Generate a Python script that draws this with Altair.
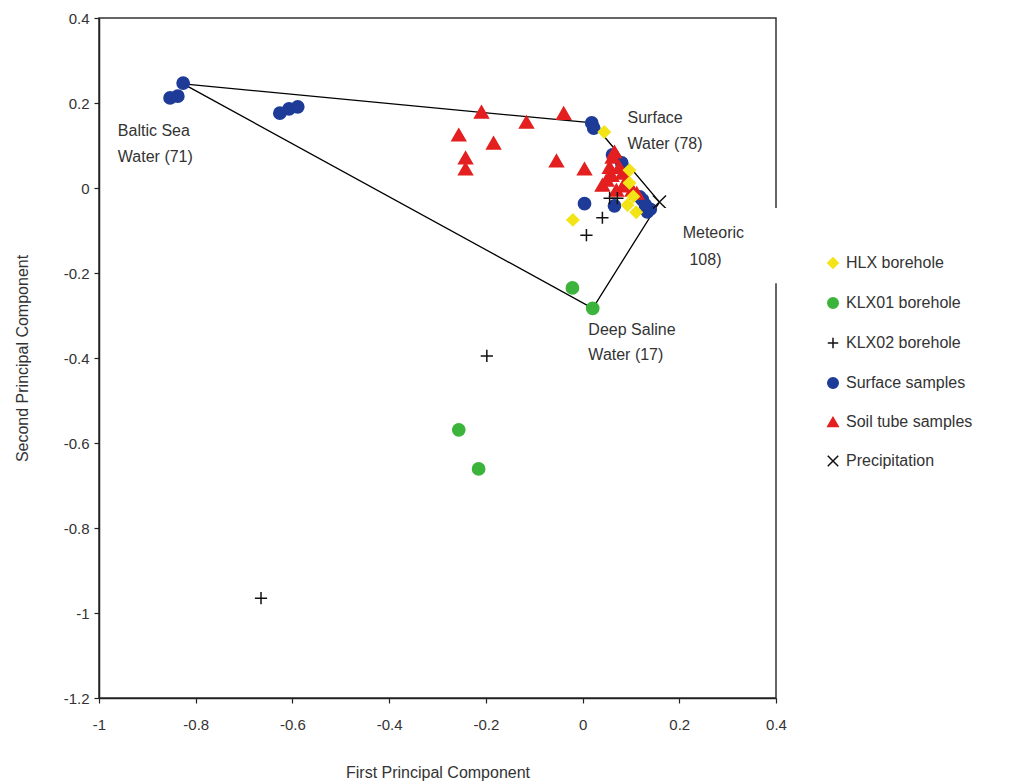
import altair as alt
import pandas as pd

# ---------------- data ----------------
series_order = ["HLX borehole", "KLX01 borehole", "KLX02 borehole",
                "Surface samples", "Soil tube samples", "Precipitation"]
series_colors = ["#f3e417", "#3cb43c", "#111111", "#1d3b97", "#e41f1f", "#111111"]
series_shapes = ["diamond", "circle", "M-1,0H1M0,-1V1", "circle", "triangle-up",
                 "M-1,-1L1,1M-1,1L1,-1"]
series_sizes = [140, 150, 150, 150, 190, 170]

surface_x = [-0.826, -0.853, -0.837, -0.626, -0.607, -0.589, 0.019, 0.023,
             0.062, 0.081, 0.004, 0.066, 0.124, 0.134, 0.118, 0.140, 0.130]
surface_y = [0.247, 0.212, 0.216, 0.176, 0.186, 0.191, 0.153, 0.141,
             0.078, 0.059, -0.037, -0.042, -0.028, -0.056, -0.021, -0.050, -0.040]

soil_x = [-0.209, -0.116, -0.039, -0.256, -0.184, -0.242, -0.242, -0.054, 0.004,
          0.062, 0.076, 0.050, 0.091, 0.103, 0.070, 0.056, 0.083, 0.112, 0.066,
          0.041, 0.085, 0.095, 0.060]
soil_y = [0.179, 0.155, 0.176, 0.125, 0.106, 0.071, 0.045, 0.064, 0.045,
          0.073, 0.049, 0.019, 0.019, -0.005, -0.005, 0.049, 0.035, -0.012, 0.085,
          0.007, 0.005, 0.010, 0.030]

hlx_x = [0.045, 0.097, 0.093, 0.111, -0.020, 0.097, 0.105]
hlx_y = [0.132, 0.042, -0.040, -0.057, -0.075, 0.012, -0.020]

klx01_x = [-0.021, 0.021, -0.256, -0.215]
klx01_y = [-0.235, -0.283, -0.569, -0.661]

klx02_x = [0.041, 0.008, 0.056, 0.072, -0.198, -0.665]
klx02_y = [-0.070, -0.111, -0.024, -0.024, -0.395, -0.965]

precip_x = [0.159]
precip_y = [-0.033]

# mixing polygon (end-members)
poly_x = [-0.826, 0.021, 0.159, 0.021, -0.826]
poly_y = [0.245, 0.153, -0.033, -0.283, 0.245]

# annotation labels
ann_text = ["Baltic Sea", "Water (71)", "Surface", "Water (78)",
            "Meteoric", "108)", "Deep Saline", "Water (17)"]
ann_x = [-0.961, -0.961, 0.093, 0.093, 0.207, 0.221, 0.012, 0.012]
ann_y = [0.134, 0.073, 0.165, 0.103, -0.107, -0.170, -0.334, -0.393]

# white box behind the "Meteoric" label
box_x = [0.165, 0.43]
box_y = [-0.047, -0.224]

x_ticks = [-1, -0.8, -0.6, -0.4, -0.2, 0, 0.2, 0.4]
y_ticks = [-1.2, -1, -0.8, -0.6, -0.4, -0.2, 0, 0.2, 0.4]

# ---------------- tables ----------------
size_of = dict(zip(series_order, series_sizes))
rows = []
for name, xs, ys in [("Surface samples", surface_x, surface_y),
                     ("Soil tube samples", soil_x, soil_y),
                     ("HLX borehole", hlx_x, hlx_y),
                     ("KLX01 borehole", klx01_x, klx01_y),
                     ("KLX02 borehole", klx02_x, klx02_y),
                     ("Precipitation", precip_x, precip_y)]:
    for a, b in zip(xs, ys):
        rows.append({"x": a, "y": b, "series": name, "sz": size_of[name]})
pts = pd.DataFrame(rows)
poly = pd.DataFrame({"x": poly_x, "y": poly_y, "order": list(range(len(poly_x)))})
ann = pd.DataFrame({"x": ann_x, "y": ann_y, "text": ann_text})
box = pd.DataFrame({"x": [box_x[0]], "x2": [box_x[1]], "y": [box_y[0]], "y2": [box_y[1]]})

FONT = "Liberation Sans"
label_expr = "toString(round(datum.value*10)/10)"

xscale = alt.Scale(domain=[-1, 0.4], nice=False, zero=False)
yscale = alt.Scale(domain=[-1.2, 0.4], nice=False, zero=False)

xaxis = alt.Axis(values=x_ticks, labelExpr=label_expr, title="First Principal Component",
                 grid=False, tickSize=5, labelPadding=14, titlePadding=32, labelFlush=False,
                 labelFontSize=15, titleFontSize=16, titleFontWeight="normal")
yaxis = alt.Axis(values=y_ticks, labelExpr=label_expr, title="Second Principal Component",
                 grid=False, tickSize=5, labelPadding=5, titlePadding=33, labelFlush=False,
                 labelFontSize=15, titleFontSize=16, titleFontWeight="normal")

X = alt.X("x:Q", scale=xscale, axis=xaxis)
Y = alt.Y("y:Q", scale=yscale, axis=yaxis)

leg = alt.Legend(title=None, orient="none", legendX=726, legendY=237,
                 labelFontSize=16, labelFont=FONT, labelColor="#333333",
                 symbolSize=110, symbolStrokeWidth=1.5, rowPadding=22,
                 labelOffset=5, padding=0)

polygon = alt.Chart(poly).mark_line(color="black", strokeWidth=1.3).encode(
    x=X, y=Y, order="order:O")

points = alt.Chart(pts).mark_point(filled=True, strokeWidth=1.5, opacity=1).encode(
    x=X, y=Y,
    fill=alt.Fill("series:N", scale=alt.Scale(domain=series_order, range=series_colors), legend=leg),
    stroke=alt.Stroke("series:N", scale=alt.Scale(domain=series_order, range=series_colors), legend=leg),
    shape=alt.Shape("series:N", scale=alt.Scale(domain=series_order, range=series_shapes), legend=leg),
    size=alt.Size("sz:Q", scale=None),
)

whitebox = alt.Chart(box).mark_rect(fill="white").encode(
    x="x:Q", x2="x2:Q", y="y:Q", y2="y2:Q")

labels = alt.Chart(ann).mark_text(align="left", baseline="middle", fontSize=16,
                                  font=FONT, color="#333333").encode(
    x=X, y=Y, text="text:N")

chart = alt.layer(polygon, points, whitebox, labels).properties(
    width=677, height=680,
    autosize=alt.AutoSizeParams(type="none"),
    padding={"left": 99, "top": 18, "right": 245, "bottom": 86},
).configure_view(
    stroke="#333333", strokeWidth=1.5
).configure_axis(
    domainColor="#222222", domainWidth=1.5, tickColor="#222222", tickWidth=1.2,
    labelFont=FONT, titleFont=FONT, labelColor="#333333", titleColor="#333333"
)

chart.save("out.html", embed_options={"renderer": "svg", "actions": False})
